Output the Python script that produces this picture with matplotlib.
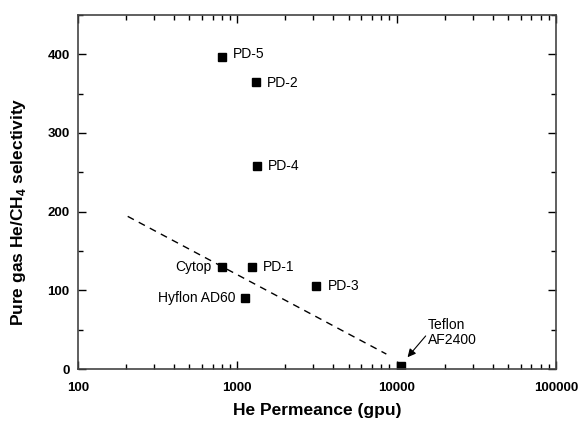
import matplotlib
matplotlib.use("Agg")
import matplotlib.pyplot as plt
from matplotlib.ticker import MultipleLocator, LogLocator, NullFormatter, FixedLocator

plt.rcParams['font.family'] = ['Liberation Sans', 'DejaVu Sans']
plt.rcParams['mathtext.fontset'] = 'custom'
plt.rcParams['mathtext.bf'] = 'Liberation Sans:bold'
plt.rcParams['mathtext.rm'] = 'Liberation Sans:bold'

# data
names = ['PD-5', 'PD-2', 'PD-4', 'Cytop', 'PD-1', 'Hyflon AD60', 'PD-3', 'Teflon\nAF2400']
permeance = [800, 1306, 1330, 797, 1239, 1120, 3130, 10640]
selectivity = [397, 365, 258, 129.5, 129.5, 90.5, 106, 4]
# label offsets in points and alignment
offsets = [(8, 2), (8, -1), (8, 0), (-7, 0), (8, 0), (-7, 0), (8, 0), None]

trend_x = [205, 8610]
trend_y = [194, 19]

fig = plt.figure(figsize=(5.78, 4.21), dpi=100)
ax = fig.add_axes([0.135, 0.1235, 0.827, 0.841])

ax.plot(trend_x, trend_y, color='black', lw=1.0, ls=(0, (5, 4)))
ax.plot(permeance, selectivity, 's', color='black', ms=5.5, ls='none')

for name, px, py, off in zip(names, permeance, selectivity, offsets):
    if off is None:
        # Teflon label sits up-right with a separate arrow
        ax.text(15600, 28, name, fontsize=10, ha='left', va='bottom', linespacing=1.05)
        ax.annotate('', xy=(11700, 15), xytext=(15200, 42),
                    arrowprops=dict(arrowstyle='-|>', color='black', lw=0.8,
                                    mutation_scale=12, shrinkA=0, shrinkB=0))
    else:
        ax.annotate(name, xy=(px, py), xytext=off, textcoords='offset points',
                    fontsize=10, ha='left' if off[0] > 0 else 'right', va='center')

ax.set_xscale('log')
ax.set_xlim(100, 100000)
ax.set_ylim(0, 450)
ax.xaxis.set_major_locator(FixedLocator([100, 1000, 10000, 100000]))
ax.xaxis.set_minor_locator(LogLocator(base=10, subs=range(2, 10)))
ax.xaxis.set_minor_formatter(NullFormatter())
ax.set_xticklabels(['100', '1000', '10000', '100000'])
ax.yaxis.set_major_locator(FixedLocator([0, 100, 200, 300, 400]))
ax.yaxis.set_minor_locator(MultipleLocator(50))

ax.tick_params(which='both', direction='in', top=True, right=True, width=1.0)
ax.tick_params(which='major', length=6, labelsize=9.5)
ax.tick_params(axis='x', which='major', pad=9)
ax.tick_params(axis='y', which='major', pad=6)
ax.tick_params(which='minor', length=3.5)
for lab in ax.get_xticklabels() + ax.get_yticklabels():
    lab.set_fontweight('bold')
for sp in ax.spines.values():
    sp.set_linewidth(1.2)
    sp.set_color('#444444')

ax.set_xlabel('He Permeance (gpu)', fontsize=12.5, fontweight='bold', labelpad=7)
ax.set_ylabel(r'Pure gas He/CH$_\mathbf{4}$ selectivity', fontsize=12.5,
              fontweight='bold')
ax.yaxis.set_label_coords(-0.105, 0.443)

fig.savefig('out.png', dpi=100)
